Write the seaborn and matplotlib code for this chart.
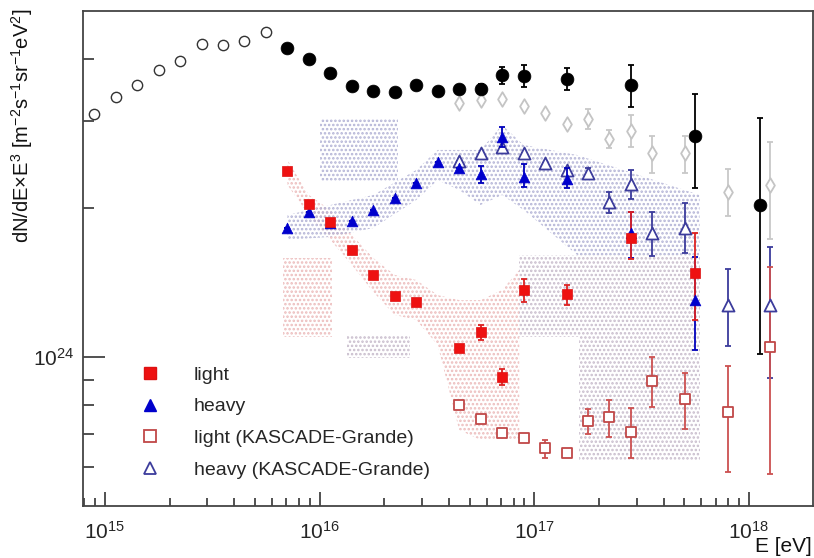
import numpy as np
import matplotlib
matplotlib.use("Agg")
import matplotlib.pyplot as plt
import seaborn as sns
from matplotlib.lines import Line2D
from matplotlib.ticker import LogLocator, NullFormatter, FixedLocator, FixedFormatter

sns.set_theme(style="white")
plt.rcParams["font.family"] = ["Liberation Sans", "DejaVu Sans"]
plt.rcParams["mathtext.fontset"] = "custom"
plt.rcParams["mathtext.rm"] = "Liberation Sans"
plt.rcParams["mathtext.it"] = "Liberation Sans:italic"
plt.rcParams["hatch.linewidth"] = 1.2

UNIT = 1e24  # flux values below are in units of 1e24 m^-2 s^-1 sr^-1 eV^2

# ---- all-particle (open circles, low energy) ----
lgE_allk = [14.95, 15.05, 15.15, 15.25, 15.35, 15.45, 15.55, 15.65, 15.75]
flux_allk = [3.097, 3.352, 3.544, 3.801, 3.963, 4.289, 4.269, 4.349, 4.535]

# ---- all-particle (filled black circles) ----
lgE_all = [15.85, 15.95, 16.05, 16.15, 16.25, 16.35, 16.45, 16.55, 16.65, 16.75,
           16.85, 16.95, 17.15, 17.45, 17.75, 18.05]
flux_all = [4.209, 4.000, 3.748, 3.527, 3.446, 3.430, 3.544, 3.446, 3.478, 3.478,
            3.713, 3.696, 3.644, 3.544, 2.796, 2.028]
lo_all = [4.209, 4.000, 3.748, 3.527, 3.446, 3.430, 3.544, 3.446, 3.43, 3.41,
          3.561, 3.511, 3.462, 3.200, 2.195, 1.014]
hi_all = [4.209, 4.000, 3.748, 3.527, 3.446, 3.430, 3.544, 3.446, 3.544, 3.561,
          3.854, 3.890, 3.836, 3.890, 3.399, 3.040]

# ---- all-particle KASCADE-Grande (gray diamonds) ----
lgE_kg = [16.65, 16.75, 16.85, 16.95, 17.05, 17.15, 17.25, 17.35, 17.45, 17.55,
          17.7, 17.9, 18.1]
flux_kg = [3.260, 3.306, 3.320, 3.215, 3.111, 2.956, 3.026, 2.757, 2.862, 2.583,
           2.583, 2.154, 2.226]
lo_kg = [3.260, 3.306, 3.320, 3.215, 3.111, 2.956, 2.888, 2.644, 2.657, 2.354,
         2.354, 1.927, 1.731]
hi_kg = [3.260, 3.306, 3.320, 3.215, 3.111, 2.956, 3.170, 2.875, 3.083, 2.796,
         2.796, 2.398, 2.719]

# ---- heavy (filled blue triangles) ----
lgE_heavy = [15.85, 15.95, 16.05, 16.15, 16.25, 16.35, 16.45, 16.55, 16.65, 16.75,
             16.85, 16.95, 17.15, 17.45, 17.75]
flux_heavy = [1.822, 1.963, 1.865, 1.883, 1.982, 2.095, 2.246, 2.477, 2.409, 2.343,
              2.783, 2.310, 2.289, 1.780, 1.303]
lo_heavy = [1.822, 1.963, 1.865, 1.883, 1.982, 2.095, 2.246, 2.477, 2.409, 2.246,
            2.657, 2.205, 2.195, 1.585, 1.033]
hi_heavy = [1.822, 1.963, 1.865, 1.883, 1.982, 2.095, 2.246, 2.477, 2.409, 2.431,
            2.915, 2.454, 2.409, 1.963, 1.592]

# ---- heavy KASCADE-Grande (open blue triangles) ----
lgE_heavy_kg = [16.65, 16.75, 16.85, 16.95, 17.05, 17.15, 17.25, 17.35, 17.45, 17.55,
                17.7, 17.9, 18.1]
flux_heavy_kg = [2.489, 2.583, 2.657, 2.583, 2.466, 2.387, 2.354, 2.057, 2.236, 1.780,
                 1.822, 1.274, 1.274]
lo_heavy_kg = [2.489, 2.583, 2.657, 2.583, 2.466, 2.387, 2.30, 1.954, 2.085, 1.600,
               1.622, 1.052, 0.907]
hi_heavy_kg = [2.489, 2.583, 2.657, 2.583, 2.466, 2.387, 2.41, 2.154, 2.387, 1.963,
               2.047, 1.506, 1.668]

# ---- light (filled red squares) ----
lgE_light = [15.85, 15.95, 16.05, 16.15, 16.25, 16.35, 16.45, 16.65, 16.75, 16.85,
             16.95, 17.15, 17.45, 17.75]
flux_light = [2.376, 2.038, 1.874, 1.645, 1.465, 1.328, 1.292, 1.043, 1.123, 0.911,
              1.366, 1.340, 1.740, 1.478]
lo_light = [2.376, 2.038, 1.874, 1.645, 1.465, 1.328, 1.292, 1.043, 1.082, 0.878,
            1.292, 1.274, 1.578, 1.188]
hi_light = [2.376, 2.038, 1.874, 1.645, 1.465, 1.328, 1.292, 1.043, 1.161, 0.946,
            1.438, 1.398, 1.963, 1.780]

# ---- light KASCADE-Grande (open red squares) ----
lgE_light_kg = [16.65, 16.75, 16.85, 16.95, 17.05, 17.15, 17.25, 17.35, 17.45, 17.55,
                17.7, 17.9, 18.1]
flux_light_kg = [0.800, 0.750, 0.702, 0.686, 0.655, 0.640, 0.743, 0.756, 0.706, 0.894,
                 0.823, 0.774, 1.048]
lo_light_kg = [0.800, 0.750, 0.702, 0.686, 0.625, 0.640, 0.699, 0.689, 0.625, 0.792,
               0.715, 0.586, 0.580]
hi_light_kg = [0.800, 0.750, 0.702, 0.686, 0.680, 0.640, 0.785, 0.819, 0.789, 1.000,
               0.928, 0.959, 1.520]

# ---- systematic bands ----
band_heavy_lgE = [15.85, 16.05, 16.25, 16.45, 16.55, 16.65, 16.75, 16.85, 16.95, 17.2, 17.77]
band_heavy_lo = [1.724, 1.748, 1.822, 2.075, 2.276, 2.175, 2.028, 2.125, 1.982, 1.607, 1.607]
band_heavy_hi = [1.936, 2.028, 2.125, 2.387, 2.620, 2.620, 2.620, 2.943, 2.681, 2.559, 2.125]

band_light_lgE = [15.85, 15.95, 16.05, 16.15, 16.25, 16.35, 16.45, 16.55, 16.65, 16.75, 16.85, 16.93]
band_light_lo = [2.226, 1.936, 1.724, 1.534, 1.353, 1.216, 1.188, 1.057, 0.712, 0.680, 0.680, 0.680]
band_light_hi = [2.500, 2.125, 1.982, 1.764, 1.585, 1.465, 1.431, 1.334, 1.303, 1.303, 1.366, 1.499]

band_mix_lgE = [16.93, 17.21, 17.21, 17.77]
band_mix_lo = [1.098, 1.098, 0.619, 0.619]
band_mix_hi = [1.607, 1.607, 1.607, 1.607]

# rectangles: (lgE_min, lgE_max, flux_min, flux_max)
rect_gray_top = (16.0, 16.363, 2.257, 3.040)
rect_pink_left = (15.828, 16.06, 1.098, 1.585)
rect_gray_low = (16.126, 16.419, 0.995, 1.108)

fig = plt.figure(figsize=(8.14, 5.58), dpi=100)
ax = fig.add_axes([83 / 814, 1 - 506 / 558, 730 / 814, 495 / 558])
ax.set_xscale("log")
ax.set_yscale("log")
ax.set_xlim(10 ** 14.898, 10 ** 18.298)
ax.set_ylim(10 ** 23.699, 10 ** 24.699)

C_HEAVY_BAND = "#b4b4d6"
C_LIGHT_BAND = "#ecbcbc"
C_MIX_BAND = "#c8bccc"


def band(lgE, lo, hi, color):
    E = 10 ** np.asarray(lgE)
    ax.fill_between(E, np.asarray(lo) * UNIT, np.asarray(hi) * UNIT, facecolor="none",
                    edgecolor=color, hatch="....", linewidth=0, zorder=1)


def rect(r, color):
    band([r[0], r[1]], [r[2], r[2]], [r[3], r[3]], color)


band(band_light_lgE, band_light_lo, band_light_hi, C_LIGHT_BAND)
band(band_heavy_lgE, band_heavy_lo, band_heavy_hi, C_HEAVY_BAND)
band(band_mix_lgE, band_mix_lo, band_mix_hi, C_MIX_BAND)
rect(rect_gray_top, C_HEAVY_BAND)
rect(rect_pink_left, C_LIGHT_BAND)
rect(rect_gray_low, C_MIX_BAND)


def series(lgE, val, lo, hi, marker, face, edge, ecolor, s, lw, z):
    E = 10 ** np.asarray(lgE)
    y = np.asarray(val) * UNIT
    if lo is not None:
        yl = np.asarray(lo) * UNIT
        yh = np.asarray(hi) * UNIT
        ax.errorbar(E, y, yerr=[y - yl, yh - y], fmt="none", ecolor=ecolor,
                    elinewidth=1.3, capsize=2.5, capthick=1.3, zorder=z)
    sns.scatterplot(x=E, y=y, marker=marker, s=s, color=face, edgecolor=edge,
                    linewidth=lw, ax=ax, zorder=z + 0.5, legend=False)


# all-particle low energy open circles with tiny error bars
y_ak = np.asarray(flux_allk)
series(lgE_allk, flux_allk, y_ak * 0.985, y_ak * 1.015, "o", "white", "#333333", "#333333", 55, 1.0, 5)
series(lgE_kg, flux_kg, lo_kg, hi_kg, "d", "white", "#c4c4c4", "#c8c8c8", 55, 1.3, 3)
series(lgE_all, flux_all, lo_all, hi_all, "o", "black", "black", "black", 85, 0.5, 6)
series(lgE_heavy_kg, flux_heavy_kg, lo_heavy_kg, hi_heavy_kg, "^", "white", "#3c3c9c", "#3c3c9c", 75, 1.3, 4)
series(lgE_light_kg, flux_light_kg, lo_light_kg, hi_light_kg, "s", "white", "#c04848", "#cc5050", 62, 1.3, 4)
series(lgE_heavy, flux_heavy, lo_heavy, hi_heavy, "^", "#0000cc", "#0000cc", "#0000bb", 60, 0.5, 5)
series(lgE_light, flux_light, lo_light, hi_light, "s", "#ee1111", "#dd1111", "#dd2222", 62, 0.5, 5)

# axes styling (ROOT-like)
for sp in ax.spines.values():
    sp.set_color("#444444")
    sp.set_linewidth(1.3)

ax.xaxis.set_major_locator(FixedLocator([1e15, 1e16, 1e17, 1e18]))
ax.xaxis.set_major_formatter(FixedFormatter([r"$10^{15}$", r"$10^{16}$", r"$10^{17}$", r"$10^{18}$"]))
ax.xaxis.set_minor_locator(LogLocator(base=10, subs=np.arange(2, 10), numticks=20))
ax.xaxis.set_minor_formatter(NullFormatter())
ax.yaxis.set_major_locator(FixedLocator([1e24]))
ax.yaxis.set_major_formatter(FixedFormatter([r"$10^{24}$"]))
ax.yaxis.set_minor_locator(FixedLocator([6e23, 7e23, 8e23, 9e23, 2e24, 3e24, 4e24]))
ax.yaxis.set_minor_formatter(NullFormatter())

ax.tick_params(axis="x", which="major", direction="in", length=10, width=1.2, color="#333333",
               labelsize=15, pad=11, top=False, bottom=True)
ax.tick_params(axis="x", which="minor", direction="in", length=5.5, width=1.2, color="#333333",
               top=False, bottom=True)
ax.tick_params(axis="y", which="major", direction="in", length=16, width=1.2, color="#333333",
               labelsize=15, pad=6, right=False, left=True)
ax.tick_params(axis="y", which="minor", direction="in", length=8, width=1.2, color="#333333",
               right=False, left=True)

fig.text(22 / 814, 1 - 9 / 558,
         r"dN/dE$\times$E$^3$ [m$^{-2}$s$^{-1}$sr$^{-1}$eV$^2$]",
         rotation=90, ha="center", va="top", fontsize=14.5, color="#111111")
fig.text(812 / 814, 2 / 558, "E [eV]", ha="right", va="bottom", fontsize=15, color="#111111")

handles = [
    Line2D([], [], ls="none", marker="s", markersize=8, markerfacecolor="#ee1111", markeredgecolor="#dd1111"),
    Line2D([], [], ls="none", marker="^", markersize=8, markerfacecolor="#0000cc", markeredgecolor="#0000cc"),
    Line2D([], [], ls="none", marker="s", markersize=8, markerfacecolor="white", markeredgecolor="#c04848", markeredgewidth=1.3),
    Line2D([], [], ls="none", marker="^", markersize=8.5, markerfacecolor="white", markeredgecolor="#3c3c9c", markeredgewidth=1.3),
]
labels = ["light", "heavy", "light (KASCADE-Grande)", "heavy (KASCADE-Grande)"]
leg = ax.legend(handles, labels, loc="upper left", bbox_to_anchor=(0.055, 0.318),
                frameon=True, fontsize=14, handlelength=1.0, handletextpad=1.75,
                labelspacing=0.72, borderpad=0.4)
leg.get_frame().set_edgecolor("white")
leg.get_frame().set_facecolor("white")
leg.get_frame().set_alpha(1.0)

fig.savefig("out.png", dpi=100)
